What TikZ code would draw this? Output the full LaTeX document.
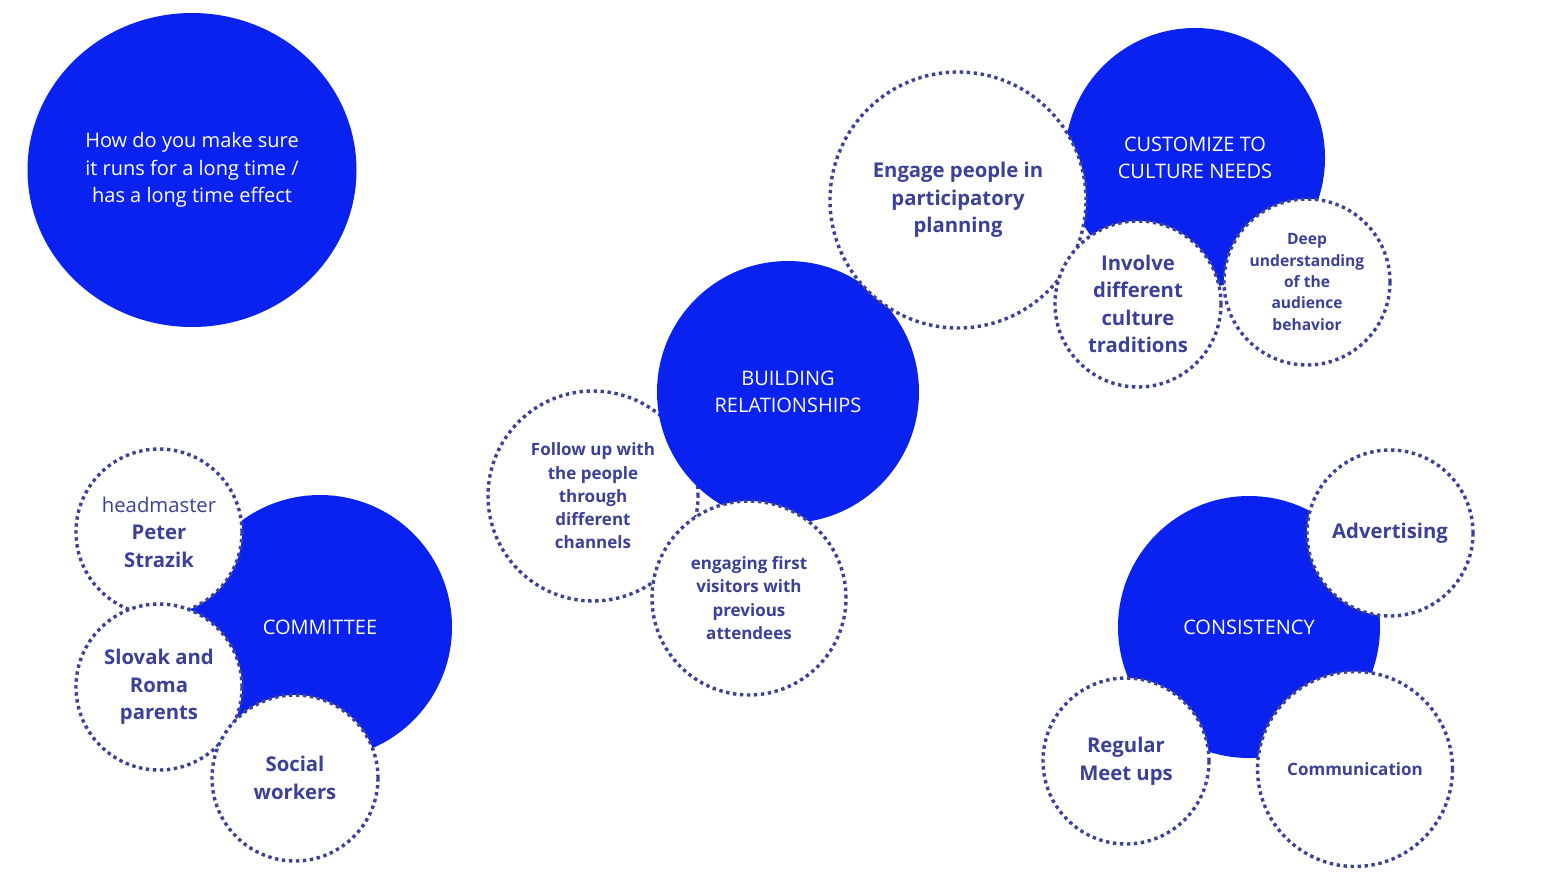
\documentclass[tikz,border=0pt]{standalone}
\usepackage{fontspec}
\setmainfont{Open Sans}
\usetikzlibrary{shapes.geometric}
\definecolor{Vivid}{HTML}{0A22F0}
\definecolor{Ink}{HTML}{3C4096}

\begin{document}
\begin{tikzpicture}[x=1pt,y=-1pt,
    hub/.style={circle,fill=Vivid,text=white,inner sep=0pt,minimum size=262pt,align=center,font=\fontsize{20}{27.5}\selectfont},
    leaf/.style={circle,fill=white,draw=Ink,line width=3.4pt,dash pattern=on 3.4pt off 3.6pt,text=Ink,inner sep=0pt,minimum size=166pt,align=center,font=\bfseries\fontsize{20.3}{27.5}\selectfont},
    small/.style={font=\bfseries\fontsize{17}{23.3}\selectfont}]
    \useasboundingbox (0,0) rectangle (1557,876);
    \node[hub,ellipse,minimum width=329pt,minimum height=314pt] (q) at (192,170) {How do you make sure\\it runs for a long time /\\has a long time effect};
    \node[leaf,small,minimum size=210pt] (follow) at (593,496) {Follow up with\\the people\\through\\different\\channels};
    \node[hub] (build) at (788,392) {BUILDING\\RELATIONSHIPS};
    \node[leaf,small,minimum size=194pt] (first) at (749,598) {engaging first\\visitors with\\previous\\attendees};
    \node[hub,minimum size=260pt] (cult) at (1195,158) {CUSTOMIZE TO\\CULTURE NEEDS};
    \node[leaf,minimum size=256pt] (plan) at (958,200) {Engage people in\\participatory\\planning};
    \node[leaf] (trad) at (1138,304) {Involve\\different\\culture\\traditions};
    \node[leaf,font=\bfseries\fontsize{15.6}{21.3}\selectfont] (deep) at (1307,282) {Deep\\understanding\\of the\\audience\\behavior};
    \node[hub,minimum size=264pt] (comm) at (320,627) {COMMITTEE};
    \node[leaf] (head) at (159,532) {{\mdseries headmaster}\\Peter\\Strazik};
    \node[leaf] (parents) at (159,687) {Slovak and\\Roma\\parents};
    \node[leaf] (social) at (295,778) {Social\\workers};
    \node[hub] (cons) at (1249,627) {CONSISTENCY};
    \node[leaf] (ads) at (1390,533) {Advertising};
    \node[leaf] (meet) at (1126,761) {Regular\\Meet ups};
    \node[leaf,small,minimum size=195pt] (talk) at (1355,769) {Communication};
\end{tikzpicture}
\end{document}
